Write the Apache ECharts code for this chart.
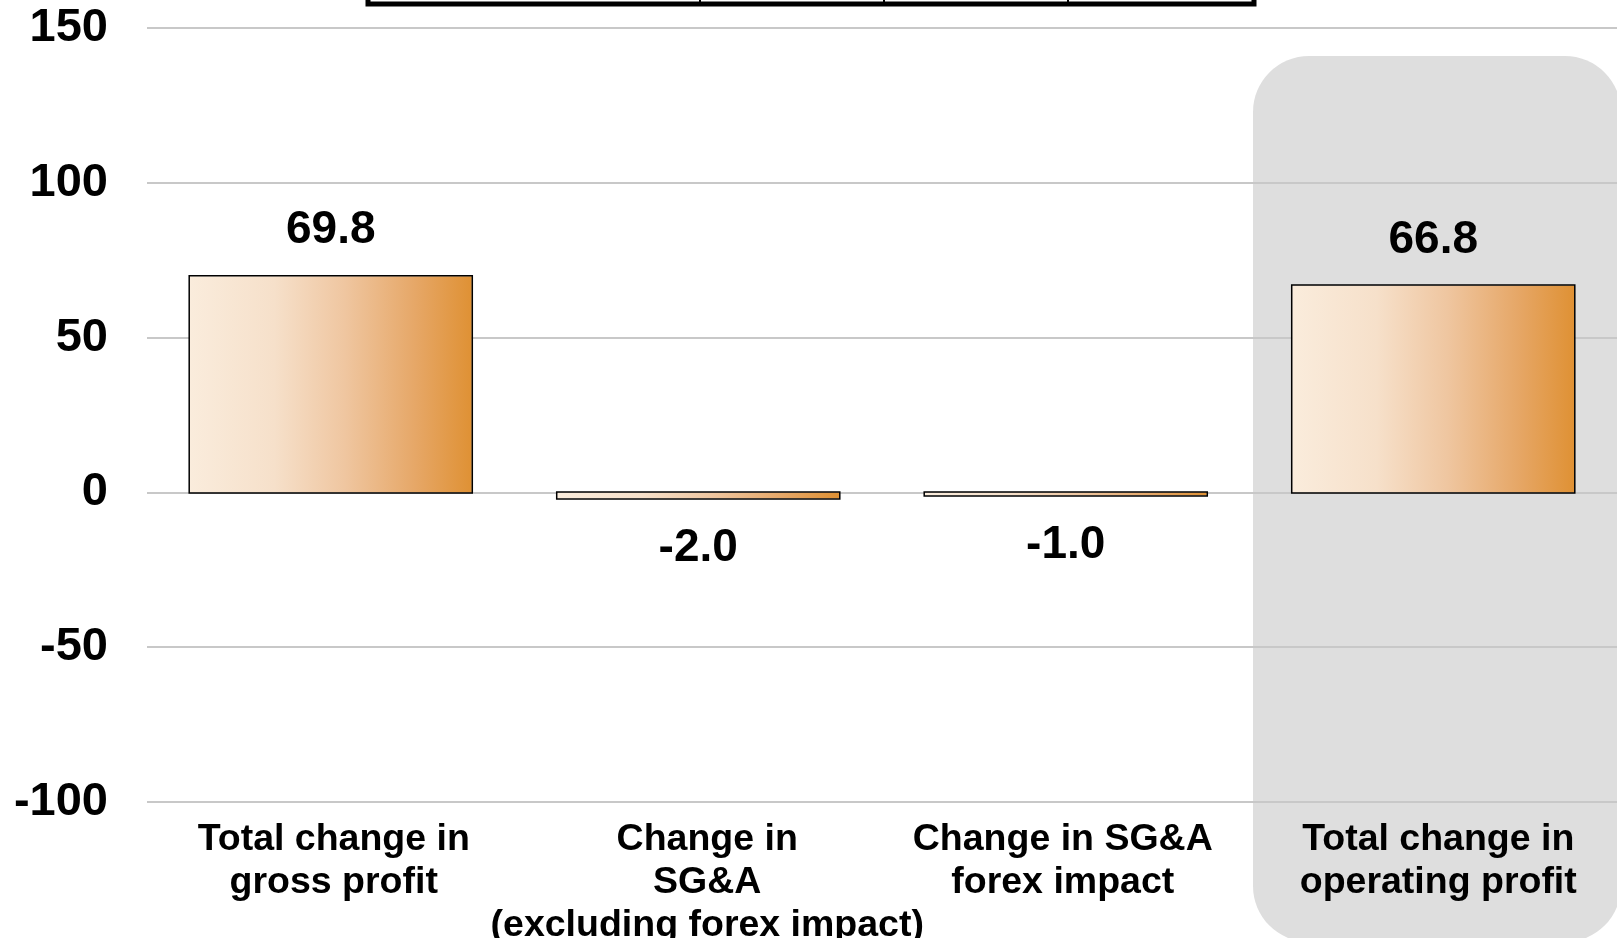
<!DOCTYPE html>
<html>
<head>
<meta charset="utf-8">
<style>
  html, body { margin: 0; padding: 0; background: #ffffff; }
  #chart { width: 1617px; height: 938px; }
</style>
<script src="https://cdn.jsdelivr.net/npm/echarts@6/dist/echarts.min.js"></script>
</head>
<body>
<div id="chart"></div>
<script>
// Operating profit bridge: components of the change (billions)
const categories = [
  'Total change in\ngross profit',
  'Change in\nSG&A\n(excluding forex impact)',
  'Change in SG&A\nforex impact',
  'Total change in\noperating profit'
];
const values = [69.8, -2.0, -1.0, 66.8];
const yTicks = { min: -100, max: 150, interval: 50 };

const FONT = '"Liberation Sans", Arial, sans-serif';
const BAR_RATIO = 0.7676;  // bar width as share of the category band
const OUTLINE = 1.5;       // outline width
const OUTSET = 0.5;        // outline pushed slightly outside the fill

// small horizontal nudges for the category captions
const captionPad = [[0, 0, 0, 6], [0, 0, 0, 18], [0, 6, 0, 0], [0, 0, 0, 10]];

const barGradient = {
  type: 'linear', x: 0, y: 0, x2: 1, y2: 0,
  colorStops: [
    { offset: 0.00, color: '#faecdc' },
    { offset: 0.30, color: '#f6e0ca' },
    { offset: 0.55, color: '#efc6a0' },
    { offset: 0.80, color: '#e6a767' },
    { offset: 1.00, color: '#df9134' }
  ]
};

const captionRich = {};
captionPad.forEach((p, i) => {
  captionRich['c' + i] = {
    color: '#000',
    fontFamily: FONT,
    fontWeight: 'bold',
    fontSize: 37.5,
    lineHeight: 43,
    padding: p
  };
});

// bar with its outline and value label
function renderBar(params, api) {
  const idx = api.value(0);
  const v = api.value(1);
  const base = api.coord([idx, 0]);
  const end = api.coord([idx, v]);
  const w = api.size([1, 0])[0] * BAR_RATIO;
  const top = Math.min(base[1], end[1]);
  const h = Math.abs(end[1] - base[1]);
  const labelY = v >= 0 ? top - 45.5 : top + h + 50;
  return {
    type: 'group',
    children: [
      {
        type: 'rect',
        shape: { x: base[0] - w / 2, y: top, width: w, height: h },
        style: { fill: barGradient }
      },
      {
        type: 'rect',
        shape: {
          x: base[0] - w / 2 - OUTSET, y: top - OUTSET,
          width: w + 2 * OUTSET, height: h + 2 * OUTSET
        },
        style: { fill: 'none', stroke: '#000', lineWidth: OUTLINE }
      },
      {
        type: 'text',
        style: {
          text: v.toFixed(1),
          x: base[0],
          y: labelY,
          align: 'center',
          verticalAlign: 'middle',
          fill: '#000',
          fontFamily: FONT,
          fontWeight: 'bold',
          fontSize: 46
        }
      }
    ]
  };
}

const chart = echarts.init(document.getElementById('chart'), null, { renderer: 'canvas' });

chart.setOption({
  backgroundColor: '#ffffff',
  animation: false,
  grid: { left: 147, right: 0, top: 28, bottom: 136, outerBoundsMode: 'none', containLabel: false },
  xAxis: {
    type: 'category',
    data: categories,
    axisLine: { show: false },
    axisTick: { show: false },
    axisLabel: {
      interval: 0,
      margin: 16,
      color: '#000',
      fontFamily: FONT,
      fontWeight: 'bold',
      fontSize: 37.5,
      lineHeight: 43,
      formatter: (value, idx) =>
        value.split('\n').map(line => '{c' + idx + '|' + line + '}').join('\n'),
      rich: captionRich
    }
  },
  yAxis: {
    type: 'value',
    min: yTicks.min,
    max: yTicks.max,
    interval: yTicks.interval,
    axisLine: { show: false },
    axisTick: { show: false },
    axisLabel: {
      margin: 39,
      color: '#000',
      fontFamily: FONT,
      fontWeight: 'bold',
      fontSize: 47
    },
    splitLine: { lineStyle: { color: '#c8c8c8', width: 2 } }
  },
  series: [{
    type: 'custom',
    renderItem: renderBar,
    encode: { x: 0, y: 1 },
    data: values.map((v, i) => [i, v])
  }],
  graphic: [
    // highlight panel behind the total column
    {
      type: 'rect',
      z: -10,
      silent: true,
      shape: { x: 1253, y: 56, width: 368, height: 886, r: 56 },
      style: { fill: '#dedede' }
    },
    // bottom edge of the table above the chart
    {
      type: 'rect',
      z: 100,
      silent: true,
      shape: { x: 368, y: -30, width: 886, height: 34 },
      style: { fill: 'none', stroke: '#000', lineWidth: 5 }
    },
    { type: 'line', z: 100, silent: true, shape: { x1: 700, y1: -10, x2: 700, y2: 4 }, style: { stroke: '#000', lineWidth: 2 } },
    { type: 'line', z: 100, silent: true, shape: { x1: 884, y1: -10, x2: 884, y2: 4 }, style: { stroke: '#000', lineWidth: 2 } },
    { type: 'line', z: 100, silent: true, shape: { x1: 1068, y1: -10, x2: 1068, y2: 4 }, style: { stroke: '#000', lineWidth: 2 } }
  ]
});
</script>
</body>
</html>
